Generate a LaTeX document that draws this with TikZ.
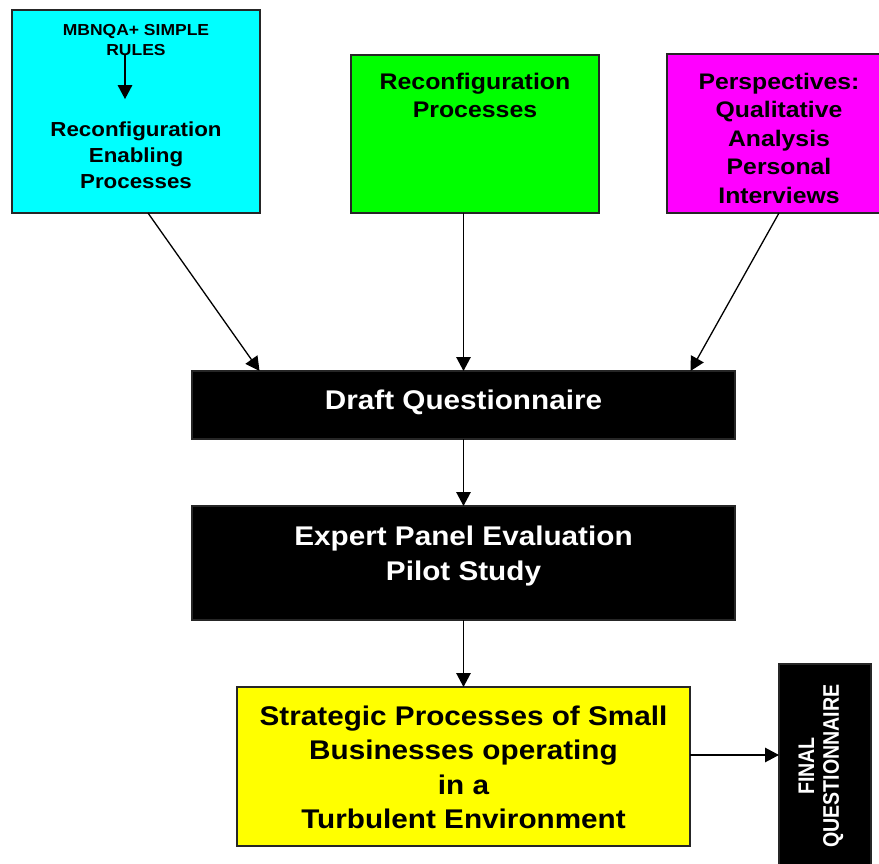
\documentclass[tikz,border=0pt]{standalone}
\usepackage{fontspec}
\setmainfont{Liberation Sans}[FakeStretch=1.1]
\newfontfamily\plainsans{Liberation Sans}
\usetikzlibrary{arrows.meta}

\definecolor{cyanfill}{RGB}{0,255,255}
\definecolor{greenfill}{RGB}{0,255,0}
\definecolor{magentafill}{RGB}{255,0,255}
\definecolor{yellowfill}{RGB}{255,255,0}

\newcommand\setfs[2]{\fontsize{#1pt}{#2pt}\selectfont\bfseries}

\tikzset{
  box/.style={draw=black!85, line width=1.6pt, anchor=north west,
              inner sep=0pt, outer sep=0pt},
  darkbox/.style={box, fill=black},
  txt/.style={align=center, inner sep=0pt, outer sep=0pt},
  arr/.style={line width=1.3pt, -{Triangle[length=14pt,width=14.5pt]}},
}

\begin{document}
\begin{tikzpicture}[x=1pt, y=-1pt]
\useasboundingbox (0,0) rectangle (879,864);
\clip (0,0) rectangle (879,864);

% top row of input boxes
\node[box, fill=cyanfill, minimum width=248pt, minimum height=203pt] (cyanbox) at (12,10) {};
\node[box, fill=greenfill, minimum width=248pt, minimum height=158pt] (greenbox) at (351,55) {};
\node[box, fill=magentafill, minimum width=224pt, minimum height=159pt] (magbox) at (667,54) {};

\node[txt, font=\setfs{15.9}{20}, anchor=north] (mbnqa) at (136,24.5) {MBNQA+ SIMPLE\\RULES};
\node[txt, font=\setfs{20.3}{25.8}, anchor=north] (recon) at (136,122.1)
  {Reconfiguration\\Enabling\\Processes};
\node[txt, font=\setfs{22.6}{28}, anchor=north] (greentxt) at (475,72.7)
  {Reconfiguration\\Processes};
\node[txt, font=\setfs{22.5}{28.4}, anchor=north] (magtxt) at (779,73.1)
  {Perspectives:\\Qualitative\\Analysis\\Personal\\Interviews};

% main flow
\node[darkbox, minimum width=543pt, minimum height=68pt] (draft) at (192,371) {};
\node[txt, text=white, font=\setfs{27}{34.5}, anchor=base] (drafttxt) at (463.5,409)
  {Draft Questionnaire};

\node[darkbox, minimum width=543pt, minimum height=114pt] (expert) at (192,506) {};
\node[txt, text=white, font=\setfs{27}{35}, anchor=north] (experttxt) at (463.5,525.6)
  {Expert Panel Evaluation\\Pilot Study};

\node[box, fill=yellowfill, minimum width=453pt, minimum height=159pt] (yellow) at (237,687) {};
\node[txt, font=\setfs{27}{34.5}, anchor=north] (yellowtxt) at (463.5,705.6)
  {Strategic Processes of Small\\Businesses operating\\in a\\Turbulent Environment};

% output box, cut off at the lower edge
\node[darkbox, minimum width=92pt, minimum height=214pt] (final) at (779,664) {};
\node[txt, text=white, rotate=90] (finaltxt) at (821.5,766)
  {\scalebox{1}[1.15]{\plainsans\fontsize{19.6pt}{21.7pt}\selectfont\bfseries
   \begin{tabular}{@{}c@{}}FINAL\\QUESTIONNAIRE\end{tabular}}};

% connectors
\draw[arr] ([xshift=-11pt,yshift=2pt]mbnqa.south) -- ([xshift=-11pt,yshift=23pt]recon.north);
\draw[arr] ([xshift=12pt]cyanbox.south) -- ([xshift=-204pt]draft.north);
\draw[arr] (greenbox.south -| draft.north) -- (draft.north);
\draw[arr] (magbox.south) -- ([xshift=227pt]draft.north);
\draw[arr] (draft.south) -- (expert.north);
\draw[arr] (expert.south) -- (yellow.north);
\draw[arr] ([yshift=11.5pt]yellow.east) -- ([yshift=11.5pt]yellow.east -| final.west);
\end{tikzpicture}
\end{document}
